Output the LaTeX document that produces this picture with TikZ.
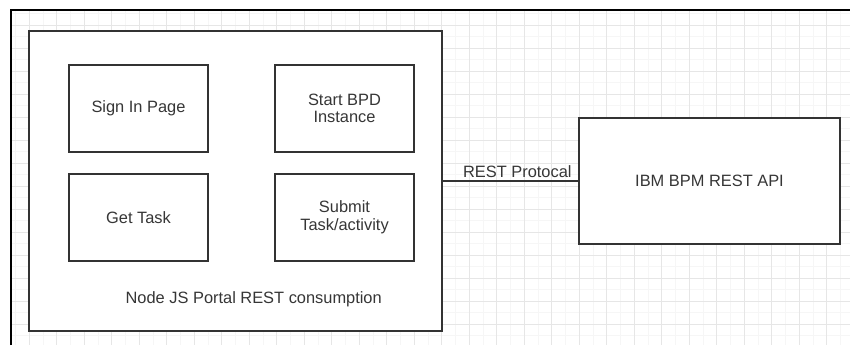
\documentclass[tikz,border=0pt]{standalone}
\usepackage{fontspec}
\setmainfont{Liberation Sans}
\definecolor{txt}{HTML}{363636}
\definecolor{edge}{HTML}{333333}
\definecolor{gmaj}{HTML}{E6E6E6}
\definecolor{gmin}{HTML}{F6F6F6}
\begin{document}
\begin{tikzpicture}[x=1pt,y=-1pt,
  lbl/.style={font=\fontsize{16.4}{17.5}\selectfont, text=txt},
  inbox/.style={draw=edge, line width=2.2pt, fill=white, minimum width=139pt, minimum height=87pt, inner sep=0pt, align=center, lbl},
  contbox/.style={draw=edge, line width=1.6pt, fill=white, minimum width=413pt, minimum height=300pt, inner sep=0pt},
  apibox/.style={draw=edge, line width=1.5pt, fill=white, minimum width=261pt, minimum height=126pt, inner sep=0pt, lbl},
  link/.style={draw=edge, line width=2pt}
]
\useasboundingbox (0,0) rectangle (850,345);
\fill[white] (0,0) rectangle (850,345);
% grid
\begin{scope}
\clip (11,10) rectangle (850,345);
\foreach \i in {0,...,65} {
  \draw[gmin, line width=0.6pt] ({1.7+13.75*\i},10) -- ({1.7+13.75*\i},345);
}
\foreach \j in {0,...,30} {
  \draw[gmin, line width=0.6pt] (11,{2+11.5*\j}) -- (850,{2+11.5*\j});
}
\foreach \i in {0,...,32} {
  \draw[gmaj, line width=0.9pt] ({1.7+27.5*\i},10) -- ({1.7+27.5*\i},345);
}
\foreach \j in {0,...,15} {
  \draw[gmaj, line width=0.9pt] (11,{2+23*\j}) -- (850,{2+23*\j});
}
\end{scope}
% outer frame
\coordinate (fbl) at (11,345);
\coordinate (ftl) at (11,10);
\coordinate (ftr) at (850,10);
\draw[black, line width=2.4pt] (fbl) -- (ftl) -- (ftr);
% container
\node[contbox] (cont) at (235.5,181) {};
\node[lbl, anchor=base] (contlbl) at (253.7,303) {Node JS Portal REST consumption};
% inner boxes
\node[inbox] (sign) at (138.5,108.5) {Sign In Page};
\node[inbox] (start) at (344.5,108.5) {Start BPD\\Instance};
\node[inbox] (get) at (138.5,217.5) {Get Task};
\node[inbox] (submit) at (344.5,217.5) {Submit\\Task/activity};
% api box
\node[apibox] (api) at (709.5,181) {IBM BPM REST API};
% connector
\coordinate (cright) at (cont.east |- api.west);
\draw[link] (cright) -- node[lbl, above, pos=0.55, inner sep=2.5pt] (rest) {REST Protocal} (api.west);
\end{tikzpicture}
\end{document}
